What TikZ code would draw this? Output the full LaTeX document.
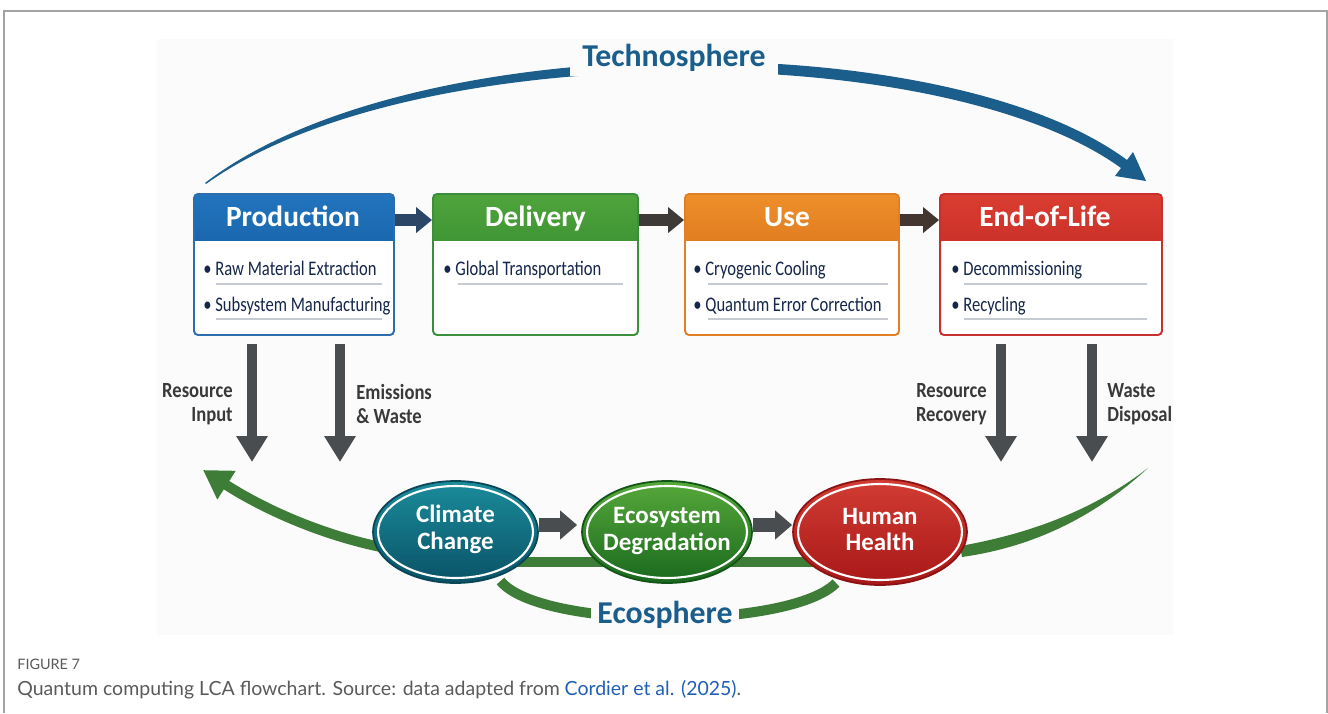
\documentclass[tikz,border=0pt]{standalone}
\usepackage{fontspec}
\setmainfont{Carlito}
\newfontfamily\itemfont[FakeStretch=0.8]{Carlito}
\newfontfamily\narrowfont[FakeStretch=0.86]{Carlito}
\newfontfamily\captionfont{Lato}
\usepackage{xcolor}
\usepackage{tikz}
\usetikzlibrary{shapes.geometric,arrows.meta,positioning,backgrounds}

\definecolor{techblue}{HTML}{1B5E8C}
\definecolor{prodtop}{HTML}{2174BD}
\definecolor{prodbot}{HTML}{0E4E92}
\definecolor{prodline}{HTML}{2C6DAE}
\definecolor{delivtop}{HTML}{50A43C}
\definecolor{delivbot}{HTML}{207828}
\definecolor{delivline}{HTML}{3B8F3B}
\definecolor{usetop}{HTML}{EE8F2B}
\definecolor{usebot}{HTML}{C75B0D}
\definecolor{useline}{HTML}{E27F24}
\definecolor{eoltop}{HTML}{DA3D31}
\definecolor{eolbot}{HTML}{AF1B1B}
\definecolor{eolline}{HTML}{C8302B}
\definecolor{itemtext}{HTML}{15264A}
\definecolor{rulegray}{HTML}{C6CBD1}
\definecolor{prodarrow}{HTML}{2C4668}
\definecolor{delivarrow}{HTML}{3D3A37}
\definecolor{usearrow}{HTML}{433530}
\definecolor{flowgray}{HTML}{4A4D50}
\definecolor{labelgray}{HTML}{393939}
\definecolor{ecogreen}{HTML}{3E7D37}
\definecolor{climtop}{HTML}{1A8C9B}
\definecolor{climbot}{HTML}{0A5266}
\definecolor{climline}{HTML}{0A4656}
\definecolor{ecotop}{HTML}{56A93A}
\definecolor{ecobot}{HTML}{1A681E}
\definecolor{ecoline}{HTML}{135516}
\definecolor{humtop}{HTML}{D23C33}
\definecolor{humbot}{HTML}{A81818}
\definecolor{humline}{HTML}{8C1313}
\definecolor{panel}{HTML}{FBFBFB}
\definecolor{framegray}{HTML}{A3A3A3}
\definecolor{captiongray}{HTML}{5A5A5A}
\definecolor{linkblue}{HTML}{1F5FB8}

\begin{document}
\begin{tikzpicture}[x=0.02cm,y=-0.02cm,
    stage/.style n args={3}{rectangle,draw=#1,line width=1.1pt,fill=white,rounded corners=0.08cm,
      minimum height=2.82cm,inner sep=0pt,
      path picture={\shade[sharp corners,top color=#2,bottom color=#3] (path picture bounding box.north west)
        rectangle ([yshift=-0.92cm]path picture bounding box.north east);}},
    stagetitle/.style={text=white,font=\fontsize{16.7}{18}\selectfont\bfseries,anchor=base,inner sep=0pt},
    stageitem/.style={text=itemtext,font=\itemfont\fontsize{11.8}{13}\selectfont,anchor=base west,inner sep=0pt},
    itemrule/.style={draw=rulegray,line width=0.6pt},
    stagearrow/.style={line width=6.6pt,-{Triangle[length=0.32cm,width=0.5cm]}},
    flowdown/.style={draw=flowgray,line width=6pt,shorten <=0.16cm,-{Triangle[length=0.52cm,width=0.6cm]}},
    flowlabel/.style={text=labelgray,font=\narrowfont\bfseries\fontsize{12.3}{13.6}\selectfont,inner sep=0pt},
    impact/.style n args={3}{ellipse,draw=#1,line width=1pt,top color=#2,bottom color=#3,inner sep=0pt},
    ring/.style={ellipse,draw=white,line width=1.2pt,inner sep=0pt},
    impacttext/.style={text=white,font=\fontsize{14.2}{15.3}\selectfont\bfseries,align=center,inner sep=0pt},
    linkarrow/.style={draw=flowgray,line width=8pt,-{Triangle[length=0.34cm,width=0.56cm]}},
    ecoband/.style={draw=ecogreen,line width=5.7pt},
    spherelabel/.style={text=techblue,font=\fontsize{18.1}{20}\selectfont\bfseries,fill=panel,
      inner ysep=2pt,anchor=base}]
  \useasboundingbox (0,0) rectangle (1328,713);
  \begin{scope}[on background layer]
    \fill[panel] (157,39) rectangle (1173,635);
  \end{scope}
  \draw[framegray,line width=0.85pt] (4,713) -- (4,11) -- (1327,11) -- (1327,713);

  % technosphere loop
  \coordinate (techstart) at (205,183);
  \coordinate (techtip) at (1146,181);
  \fill[techblue] (techstart) .. controls (410,25) and (945,25) .. (1127,160) -- (1133,152) -- (techtip)
    -- (1115,176) -- (1121,168) .. controls (940,37) and (410,37) .. (206,184) -- cycle;
  \node[spherelabel,inner xsep=0.24cm] (tech) at (674,67) {Technosphere};

  % life cycle stages
  \node[stage={prodline}{prodtop}{prodbot},minimum width=4cm] (prod) at (294,264.5) {};
  \node[stage={delivline}{delivtop}{delivbot},minimum width=4.1cm] (deliv) at (535.5,264.5) {};
  \node[stage={useline}{usetop}{usebot},minimum width=4.28cm] (use) at (792,264.5) {};
  \node[stage={eolline}{eoltop}{eolbot},minimum width=4.44cm] (eol) at (1051,264.5) {};

  \node[stagetitle] (prodtitle) at (293,226) {Production};
  \node[stagetitle] (delivtitle) at (535.5,226) {Delivery};
  \node[stagetitle] (usetitle) at (787,226) {Use};
  \node[stagetitle] (eoltitle) at (1045,226) {End-of-Life};

  \node[stageitem] (rawmat) at (203,275) {• Raw Material Extraction};
  \node[stageitem] (subsys) at (203,311) {• Subsystem Manufacturing};
  \draw[itemrule] (216,284) -- (382,284);
  \draw[itemrule] (216,319) -- (382,319);
  \node[stageitem] (transport) at (443,275) {• Global Transportation};
  \draw[itemrule] (458,284) -- (623,284);
  \node[stageitem] (cryo) at (693,275) {• Cryogenic Cooling};
  \node[stageitem] (qec) at (693,311) {• Quantum Error Correction};
  \draw[itemrule] (708,284) -- (888,284);
  \draw[itemrule] (708,319) -- (888,319);
  \node[stageitem] (decom) at (951,275) {• Decommissioning};
  \node[stageitem] (recyc) at (951,311) {• Recycling};
  \draw[itemrule] (964,284) -- (1147,284);
  \draw[itemrule] (964,319) -- (1147,319);

  \draw[stagearrow,draw=prodarrow] ([yshift=-0.54cm]prod.north east) -- ([yshift=-0.54cm]deliv.north west);
  \draw[stagearrow,draw=delivarrow] ([yshift=-0.54cm]deliv.north east) -- ([yshift=-0.54cm]use.north west);
  \draw[stagearrow,draw=usearrow] ([yshift=-0.54cm]use.north east) -- ([yshift=-0.54cm]eol.north west);

  % exchanges with the ecosphere
  \coordinate (resin) at (252,462);
  \coordinate (emis) at (340,462);
  \coordinate (resrec) at (1001,462);
  \coordinate (wastedisp) at (1092,462);
  \draw[flowdown] (prod.south -| resin) -- (resin);
  \draw[flowdown] (prod.south -| emis) -- (emis);
  \draw[flowdown] (eol.south -| resrec) -- (resrec);
  \draw[flowdown] (eol.south -| wastedisp) -- (wastedisp);
  \node[flowlabel,anchor=east,align=right] (resinlabel) at (233,404) {Resource\\Input};
  \node[flowlabel,anchor=west,align=left] (emislabel) at (356,404) {Emissions\\\& Waste};
  \node[flowlabel,anchor=east,align=right] (resreclabel) at (987,404) {Resource\\Recovery};
  \node[flowlabel,anchor=west,align=left] (wastelabel) at (1107,404) {Waste\\Disposal};

  % impact categories
  \node[impact={climline}{climtop}{climbot},minimum width=3.3cm,minimum height=2.04cm] (climate) at (455.5,532) {};
  \node[impact={ecoline}{ecotop}{ecobot},minimum width=3.4cm,minimum height=2.04cm] (eco) at (667,532) {};
  \node[impact={humline}{humtop}{humbot},minimum width=3.48cm,minimum height=2.12cm] (human) at (880,532) {};
  \node[ring,minimum width=3.1cm,minimum height=1.84cm] (climatering) at (climate) {};
  \node[ring,minimum width=3.2cm,minimum height=1.84cm] (ecoring) at (eco) {};
  \node[ring,minimum width=3.28cm,minimum height=1.92cm] (humanring) at (human) {};
  \node[impacttext] (climatetext) at ([yshift=0.05cm]climate) {Climate\\Change};
  \node[impacttext] (ecotext) at ([yshift=0.02cm]eco) {Ecosystem\\Degradation};
  \node[impacttext] (humantext) at ([yshift=0.05cm]human) {Human\\Health};

  \draw[linkarrow] ([yshift=0.14cm]climate.east) -- ([yshift=0.14cm,xshift=-0.08cm]eco.west);
  \draw[linkarrow] ([yshift=0.14cm]eco.east) -- ([yshift=0.14cm]human.west);

  % ecosphere loop
  \coordinate (ecotip) at (203,470);
  \coordinate (ecoend) at (1148,468);
  \begin{scope}[on background layer]
    \draw[ecoband,-{Triangle[length=0.56cm,width=0.64cm]}] ([shift={(-70,16)}]climate.center)
      .. controls (320,535) and (262,508) .. (ecotip);
    \fill[ecogreen] ([shift={(80,14)}]human.center) .. controls (1040,532) and (1100,505) .. (ecoend)
      .. controls (1100,512) and (1040,546) .. ([shift={(82,25)}]human.center) -- cycle;
    \draw[ecoband] ([yshift=-0.6cm]climate.center) -- ([yshift=-0.6cm]human.center);
    \draw[ecoband] ([shift={(45,49)}]climate.center) .. controls (540,630) and (790,630)
      .. ([shift={(-44,51)}]human.center);
  \end{scope}
  \node[spherelabel,inner xsep=0.12cm] (ecolabel) at (665,623) {Ecosphere};

  % caption
  \node[anchor=base west,inner sep=0pt,text=captiongray,font=\captionfont\fontsize{8.2}{9}\selectfont] (figno) at (17,669) {FIGURE 7};
  \node[anchor=base west,inner sep=0pt,text=captiongray,font=\captionfont\fontsize{11.1}{12}\selectfont] (caption) at (17,695)
    {Quantum computing LCA flowchart. Source: data adapted from \textcolor{linkblue}{Cordier et al. (2025)}.};
\end{tikzpicture}
\end{document}
